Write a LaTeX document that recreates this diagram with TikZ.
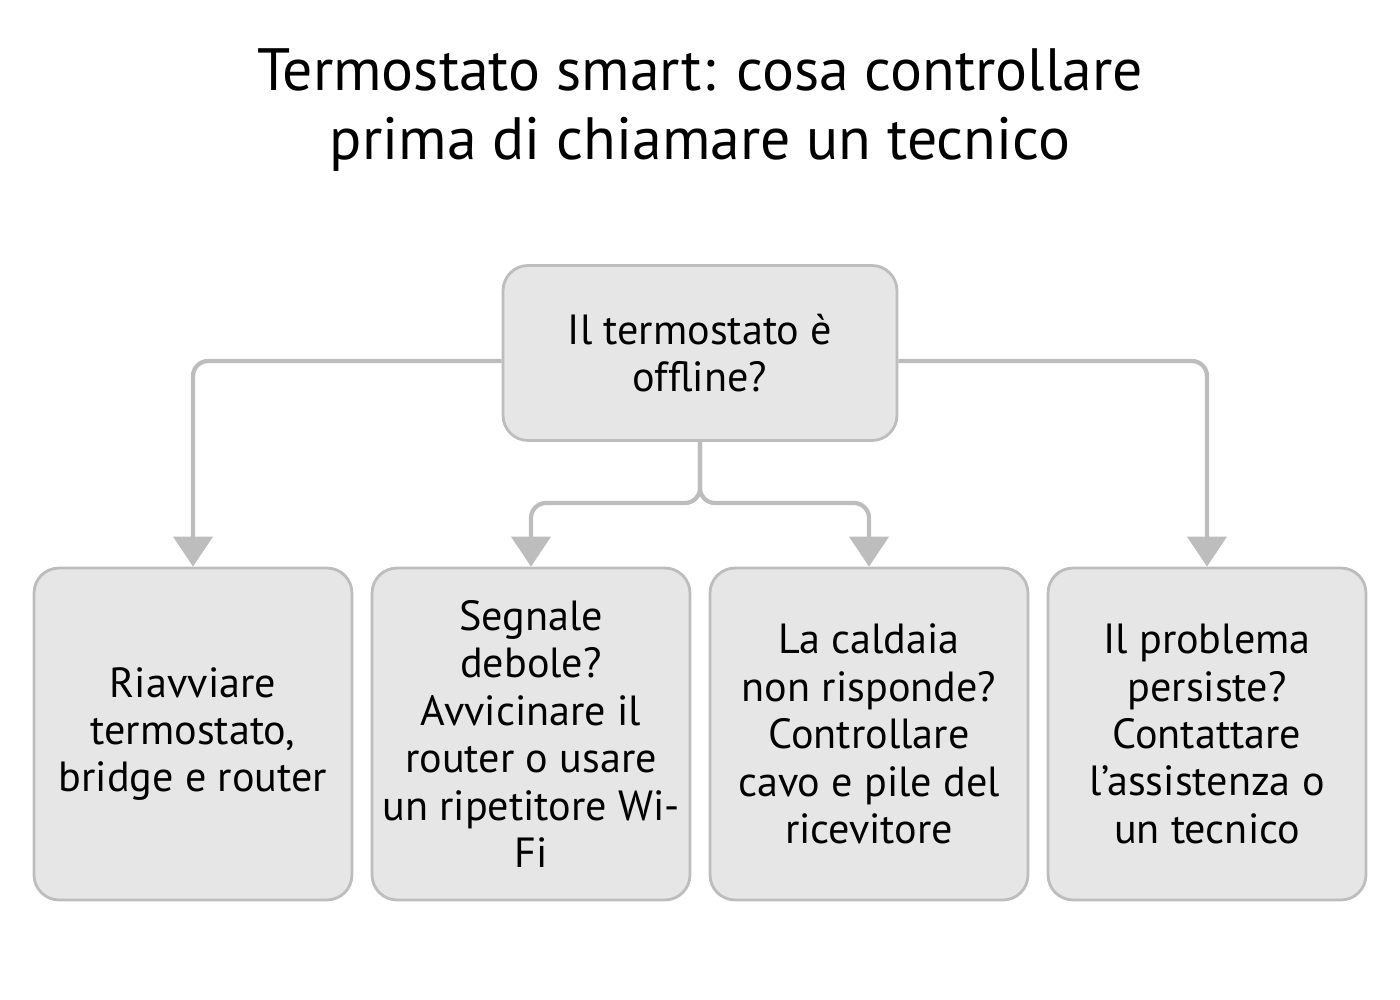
\documentclass[tikz,border=0pt]{standalone}
\usepackage{fontspec}
\setmainfont{PT Sans}
\usetikzlibrary{arrows.meta,positioning}
\definecolor{boxfill}{HTML}{E6E6E6}
\definecolor{boxline}{HTML}{BDBDBD}
\tikzset{
  stepbox/.style={draw=boxline,line width=1.6pt,fill=boxfill,rounded corners=0.5cm,
    minimum width=6.36cm,minimum height=6.64cm,align=center,
    font=\fontsize{24}{27}\selectfont},
  link/.style={draw=boxline,line width=2.4pt,rounded corners=0.3cm,
    -{Triangle[width=0.78cm,length=0.6cm]}}
}
\begin{document}
\begin{tikzpicture}[x=0.02cm,y=-0.02cm]
    \useasboundingbox (0,0) rectangle (1400,1000);
    \node[font=\fontsize{34}{39}\selectfont,align=center] (title) at (700,110)
        {Termostato smart: cosa controllare\\prima di chiamare un tecnico};

    \node[stepbox,minimum width=7.88cm,minimum height=3.5cm] (check) at (700,353)
        {Il termostato è\\offline?};

    \node[stepbox] (restart) at (193,734) {Riavviare\\termostato,\\bridge e router};
    \node[stepbox] (signal) at (531,734) {Segnale\\debole?\\Avvicinare il\\router o usare\\un ripetitore Wi-\\Fi};
    \node[stepbox] (boiler) at (869,734) {La caldaia\\non risponde?\\Controllare\\cavo e pile del\\ricevitore};
    \node[stepbox] (support) at (1207,734) {Il problema\\persiste?\\Contattare\\l’assistenza o\\un tecnico};

    \coordinate (split) at (700,503);
    \draw[link] (check.west |- 0,361) -| (restart.north);
    \draw[link] (check.east |- 0,361) -| (support.north);
    \draw[link] (check.south) -- (split) -| (signal.north);
    \draw[link] (check.south) -- (split) -| (boiler.north);
\end{tikzpicture}
\end{document}
